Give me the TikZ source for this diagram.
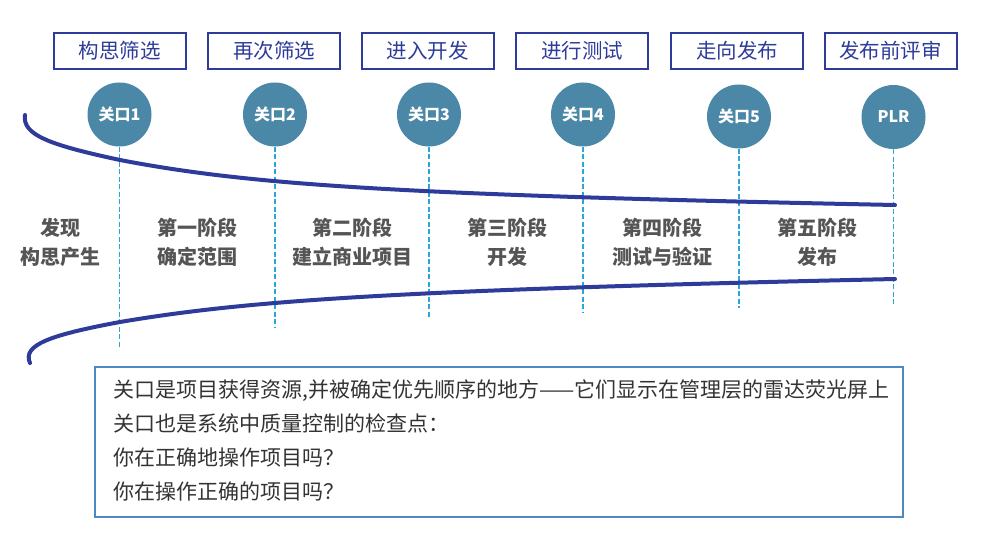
\documentclass[tikz,border=0pt]{standalone}
\usepackage{fontspec}
\setmainfont{Noto Sans CJK SC}
\usepackage{tikz}
\usetikzlibrary{positioning}
\definecolor{navy}{HTML}{2E3B9A}
\definecolor{gatecol}{HTML}{4B87A6}
\definecolor{dashcol}{HTML}{2BA6D9}
\definecolor{stagecol}{HTML}{555555}
\definecolor{notecol}{HTML}{4F86C6}
\definecolor{notetext}{HTML}{333333}
\tikzset{
	topbox/.style={draw=navy, line width=2pt, minimum width=132pt, minimum height=36pt, text=navy, font=\fontsize{20.5}{22}\selectfont},
	gate/.style={circle, fill=gatecol, minimum size=64pt, inner sep=0pt, text=white, font=\bfseries\fontsize{16}{18}\selectfont},
	stage/.style={align=center, text=stagecol, font=\bfseries\fontsize{20}{29}\selectfont},
	gateline/.style={dashcol, line width=1.6pt, dash pattern=on 5pt off 2.5pt},
	funnel/.style={navy, line width=4pt, line cap=round}
}

\begin{document}
\begin{tikzpicture}[x=1pt,y=-1pt]
				\useasboundingbox (0,0) rectangle (982,556);
				%Nodes
				\node[topbox] (box1) at (119.5,51) {构思筛选};
				\node[topbox] (box2) at (274,51) {再次筛选};
				\node[topbox] (box3) at (427.5,51) {进入开发};
				\node[topbox] (box4) at (582,51) {进行测试};
				\node[topbox] (box5) at (737,51) {走向发布};
				\node[topbox] (box6) at (890.5,51) {发布前评审};

				\node[gate] (gate1) at (119.5,114.5) {关口1};
				\node[gate] (gate2) at (275,114.5) {关口2};
				\node[gate] (gate3) at (429,114.5) {关口3};
				\node[gate] (gate4) at (583,114.5) {关口4};
				\node[gate] (gate5) at (739,116.5) {关口5};
				\node[gate] (gate6) at (893.5,117) {PLR};

				\coordinate (e1) at (119.5,348);
				\coordinate (e2) at (275,328);
				\coordinate (e3) at (429,318);
				\coordinate (e4) at (583,313);
				\coordinate (e5) at (739,308);
				\coordinate (e6) at (893.5,304);

				\node[stage] (stage0) at (60,242.5) {发现\\构思产生};
				\node[stage] (stage1) at (197,242.5) {第一阶段\\确定范围};
				\node[stage] (stage2) at (352,242.5) {第二阶段\\建立商业项目};
				\node[stage] (stage3) at (507,242.5) {第三阶段\\开发};
				\node[stage] (stage4) at (662,242.5) {第四阶段\\测试与验证};
				\node[stage] (stage5) at (817,242.5) {第五阶段\\发布};

				%Lines
				\draw[gateline] (gate1.south) -- (e1);
				\draw[gateline] (gate2.south) -- (e2);
				\draw[gateline] (gate3.south) -- (e3);
				\draw[gateline] (gate4.south) -- (e4);
				\draw[gateline] (gate5.south) -- (e5);
				\draw[gateline] (gate6.south) -- (e6);

				\draw[funnel] (25,115) .. controls (22,135) and (50,145) .. (120,160) .. controls (250,185) and (400,195) .. (895,205);
				\draw[funnel] (30,363) .. controls (22,345) and (50,335) .. (120,322) .. controls (250,300) and (400,290) .. (895,279);

				%Note
				\draw[notecol, line width=2pt] (95,367) rectangle (903,517);
				\node[anchor=west, align=left, text=notetext, font=\fontsize{21}{34.3}\selectfont, inner sep=0pt] (note) at (113,440.5) {关口是项目获得资源,并被确定优先顺序的地方——它们显示在管理层的雷达荧光屏上\\关口也是系统中质量控制的检查点：\\你在正确地操作项目吗？\\你在操作正确的项目吗？};
\end{tikzpicture}
\end{document}
